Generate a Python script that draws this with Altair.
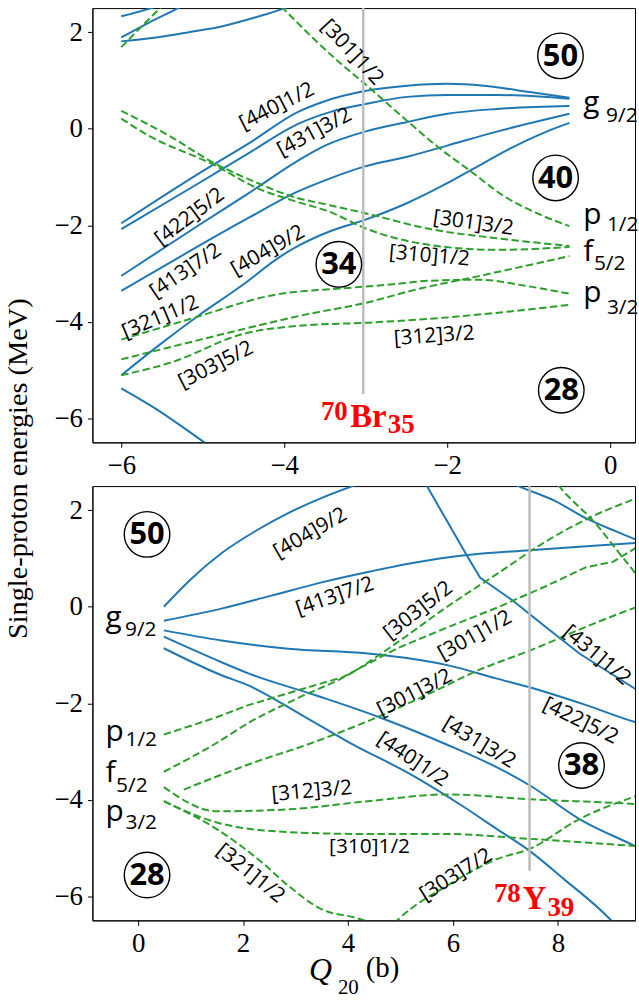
import altair as alt
import pandas as pd

BLUE = "#1f77b4"
GREEN = "#2ca02c"
GREY = "#bdbdbd"

# ------------------------------------------------------------------
# TOP PANEL (70Br, oblate side)  -- curves
# ------------------------------------------------------------------
t440_1_x = [-6.0, -5.05, -4.44, -3.83, -3.52, -3.01, -2.49, -2.0, -1.55, -0.99, -0.5]
t440_1_y = [-1.96, -0.93, -0.31, 0.35, 0.56, 0.78, 0.89, 0.93, 0.89, 0.76, 0.64]
t431_3_x = [-6.0, -5.05, -4.44, -3.83, -3.43, -3.01, -2.49, -2.0, -1.39, -0.5]
t431_3_y = [-2.08, -1.13, -0.51, 0.10, 0.35, 0.51, 0.66, 0.70, 0.70, 0.62]
t422_5_x = [-6.0, -5.05, -4.44, -3.83, -3.50, -3.01, -2.49, -2.0, -1.39, -0.5]
t422_5_y = [-3.05, -2.0, -1.34, -0.66, -0.35, -0.06, 0.14, 0.31, 0.41, 0.47]
t413_7_x = [-6.0, -5.05, -4.44, -3.83, -3.50, -3.01, -2.49, -2.0, -1.39, -0.5]
t413_7_y = [-3.36, -2.43, -1.85, -1.30, -1.07, -0.78, -0.58, -0.35, -0.06, 0.31]
t404_9_x = [-6.0, -5.54, -5.05, -4.52, -4.04, -3.83, -3.43, -3.01, -2.49, -2.0, -1.67, -1.18, -0.78, -0.5]
t404_9_y = [-5.11, -4.49, -3.87, -3.25, -2.64, -2.43, -2.12, -1.89, -1.54, -1.13, -0.82, -0.37, -0.06, 0.12]
t_low_x = [-6.0, -5.57, -4.99, -4.56]
t_low_y = [-5.38, -5.81, -6.49, -7.0]
t_topa_x = [-6.0, -5.51, -5.35]
t_topa_y = [2.33, 2.57, 2.68]
t_topb_x = [-6.0, -5.66, -5.29, -5.17]
t_topb_y = [1.89, 2.20, 2.51, 2.62]
t_topc_x = [-6.0, -5.57, -5.17, -4.77, -4.35, -4.01, -3.89]
t_topc_y = [1.81, 1.89, 2.0, 2.12, 2.31, 2.49, 2.57]

t301_1_x = [-4.13, -4.01, -3.30, -3.01, -2.49, -2.12, -1.72, -1.30, -0.90, -0.5]
t301_1_y = [2.70, 2.49, 1.34, 0.93, 0.16, -0.37, -0.87, -1.40, -1.75, -2.02]
t301_3_x = [-6.0, -5.46, -4.85, -4.32, -3.91, -3.43, -3.01, -2.21, -1.39, -0.5]
t301_3_y = [0.37, -0.10, -0.72, -1.13, -1.40, -1.59, -1.75, -2.08, -2.27, -2.43]
t310_1_x = [-6.0, -5.71, -4.85, -4.32, -3.91, -3.43, -3.01, -2.21, -1.39, -0.5]
t310_1_y = [0.21, -0.10, -0.76, -1.24, -1.48, -1.73, -2.06, -2.41, -2.51, -2.45]
t321_1_x = [-6.0, -5.17, -4.11, -3.22, -2.70, -2.21, -1.60, -1.06, -0.5]
t321_1_y = [-4.37, -3.95, -3.44, -3.30, -3.23, -3.15, -3.13, -3.25, -3.42]
t312_3_x = [-6.0, -5.17, -4.52, -3.79, -2.98, -2.40, -1.60, -0.5]
t312_3_y = [-4.78, -4.43, -4.16, -3.87, -3.60, -3.34, -3.05, -2.64]
t303_5_x = [-6.0, -5.38, -4.52, -3.79, -2.98, -2.0, -0.5]
t303_5_y = [-5.11, -4.84, -4.26, -4.08, -4.02, -3.91, -3.65]
t_steep_x = [-6.0, -5.48, -5.35]
t_steep_y = [1.69, 2.57, 2.78]

# ------------------------------------------------------------------
# BOTTOM PANEL (78Y, prolate side)
# ------------------------------------------------------------------
b404_9_x = [0.49, 0.97, 1.60, 2.23, 2.86, 3.49, 4.06, 4.5]
b404_9_y = [0.0, 0.535, 1.117, 1.564, 1.94, 2.25, 2.49, 2.66]
b413_7_x = [0.49, 1.59, 2.54, 3.48, 4.38, 5.26, 6.27, 7.46, 9.47, 9.6]
b413_7_y = [-0.29, -0.04, 0.23, 0.50, 0.72, 0.91, 1.07, 1.17, 1.32, 1.33]
b422_5_x = [0.49, 1.59, 2.86, 4.38, 5.89, 6.84, 7.46, 8.54, 9.47, 9.6]
b422_5_y = [-0.49, -0.70, -0.87, -0.97, -1.21, -1.49, -1.67, -2.04, -2.39, -2.43]
b431_3_x = [0.49, 1.59, 2.10, 3.37, 4.62, 5.89, 6.84, 7.46, 8.41, 9.47, 9.6]
b431_3_y = [-0.62, -1.15, -1.38, -1.83, -2.30, -2.86, -3.33, -3.70, -4.40, -4.96, -5.03]
b440_1_x = [0.49, 1.59, 2.10, 3.11, 4.0, 5.27, 6.21, 6.84, 7.46, 8.11, 8.98, 9.49]
b440_1_y = [-0.86, -1.42, -1.63, -2.24, -2.80, -3.52, -4.15, -4.61, -5.06, -5.64, -6.46, -7.08]
b431_1_x = [5.32, 5.51, 5.89, 6.27, 6.52, 7.15, 7.78, 8.41, 9.47, 9.6]
b431_1_y = [2.9, 2.49, 1.77, 1.05, 0.60, 0.12, -0.43, -0.97, -1.70, -1.80]
b_tr_x = [6.84, 7.27, 7.97, 8.54, 9.11, 9.47, 9.6]
b_tr_y = [2.7, 2.49, 2.18, 1.83, 1.56, 1.40, 1.35]

b301_1_x = [0.49, 1.47, 2.10, 3.05, 3.90, 4.94, 5.89, 6.84, 7.78, 8.54, 9.05, 9.47, 9.6]
b301_1_y = [-2.65, -2.30, -2.04, -1.73, -1.46, -0.86, -0.43, -0.02, 0.43, 0.82, 0.93, 1.21, 1.3]
b303_5_x = [0.49, 1.47, 2.10, 3.05, 3.99, 4.94, 5.89, 6.84, 7.78, 8.73, 9.47, 9.6]
b303_5_y = [-3.42, -2.84, -2.41, -1.89, -1.42, -0.74, 0.0, 0.68, 1.36, 1.91, 2.24, 2.3]
b301_3_x = [0.87, 2.10, 3.37, 4.62, 5.57, 6.52, 7.46, 8.73, 9.47, 9.6]
b301_3_y = [-3.79, -3.27, -2.80, -2.26, -1.79, -1.30, -0.91, -0.33, -0.02, 0.03]
b312_3_x = [0.49, 1.50, 2.86, 4.38, 5.89, 7.46, 9.47, 9.6]
b312_3_y = [-3.74, -4.24, -4.20, -4.03, -3.89, -3.99, -4.09, -4.1]
b310_1_x = [0.49, 1.50, 2.86, 4.38, 5.89, 7.46, 9.47, 9.6]
b310_1_y = [-4.03, -4.47, -4.67, -4.71, -4.71, -4.81, -4.96, -4.97]
b321_1_x = [0.49, 1.50, 2.35, 2.86, 3.48, 4.19, 4.94]
b321_1_y = [-4.03, -4.61, -5.29, -5.78, -6.26, -6.46, -6.77]
b303_7_x = [4.6, 4.94, 5.89, 6.84, 7.46, 8.41, 9.47, 9.6]
b303_7_y = [-6.9, -6.5, -5.78, -5.23, -5.02, -4.40, -3.93, -3.88]
b_steep_x = [7.88, 8.03, 8.73, 9.17, 9.47, 9.6]
b_steep_y = [2.7, 2.49, 1.71, 1.11, 0.70, 0.5]

# ------------------------------------------------------------------
# annotations
# ------------------------------------------------------------------
top_lab_text = ["[301]1/2", "[440]1/2", "[431]3/2", "[422]5/2", "[413]7/2", "[404]9/2",
                "[321]1/2", "[303]5/2", "[301]3/2", "[310]1/2", "[312]3/2"]
top_lab_x = [-3.17, -4.09, -3.63, -5.16, -5.21, -4.20, -5.52, -4.84, -1.68, -2.22, -2.16]
top_lab_y = [1.58, 0.46, -0.08, -1.83, -2.95, -2.53, -3.91, -4.90, -1.96, -2.64, -4.30]
top_lab_ang = [47, 333, 332, 323, 326, 330, 337, 333, 8, 5, 356]

bot_lab_text = ["[404]9/2", "[413]7/2", "[303]5/2", "[301]1/2", "[301]3/2", "[431]1/2",
                "[422]5/2", "[431]3/2", "[440]1/2", "[312]3/2", "[310]1/2", "[321]1/2", "[303]7/2"]
bot_lab_x = [3.28, 3.75, 5.34, 6.42, 5.27, 8.74, 8.43, 6.50, 5.23, 3.31, 4.41, 2.14, 6.06]
bot_lab_y = [1.52, 0.21, -0.08, -0.60, -1.79, -1.01, -2.37, -2.82, -3.17, -3.83, -4.98, -5.53, -5.56]
bot_lab_ang = [330, 341, 322, 331, 333, 40, 26, 31, 34, 355, 0, 39, 328]

top_orb_letter = ["g", "p", "f", "p"]
top_orb_x = [-0.33, -0.33, -0.33, -0.33]
top_orb_y = [0.35, -1.98, -2.74, -3.60]
top_orb_sub = ["9/2", "1/2", "5/2", "3/2"]
top_sub_x = [-0.05, -0.04, -0.20, -0.04]
top_sub_y = [0.144, -2.12, -2.92, -3.83]

bot_orb_letter = ["g", "p", "f", "p"]
bot_orb_x = [-0.62, -0.62, -0.62, -0.62]
bot_orb_y = [-0.41, -2.78, -3.64, -4.44]
bot_orb_sub = ["9/2", "1/2", "5/2", "3/2"]
bot_sub_x = [-0.25, -0.24, -0.42, -0.24]
bot_sub_y = [-0.60, -2.88, -3.83, -4.61]

top_magic = ["50", "40", "34", "28"]
top_magic_x = [-0.61, -0.67, -3.33, -0.60]
top_magic_y = [1.51, -1.02, -2.81, -5.42]
bot_magic = ["50", "28", "38"]
bot_magic_x = [0.17, 0.17, 8.45]
bot_magic_y = [1.50, -5.56, -3.29]

top_nucleus = ["70", "Br", "35"]
top_nuc_x = [-3.55, -3.19, -2.73]
top_nuc_y = [-6.03, -6.18, -6.30]
bot_nucleus = ["78", "Y", "39"]
bot_nuc_x = [6.78, 7.33, 7.80]
bot_nuc_y = [-6.11, -6.26, -6.40]

top_vline = {"x": [-3.03], "y": [2.5], "y2": [-5.5]}
bot_vline = {"x": [7.46], "y": [2.5], "y2": [-5.47]}

top_xticks = [-6, -4, -2, 0]
bot_xticks = [0, 2, 4, 6, 8]
yticks = [-6, -4, -2, 0, 2]
top_xdom = [-6.354, 0.305]
bot_xdom = [-0.871, 9.47]
ydom = [-6.5, 2.5]
xtitle_parts = ["Q", "20", "(b)"]
ytitle = "Single-proton energies (MeV)"

W, H = 546, 437


def curves_df(curves):
    rows = []
    for name, kind, xs, ys in curves:
        for i, (a, b) in enumerate(zip(xs, ys)):
            rows.append({"curve": name, "kind": kind, "x": a, "y": b, "i": i})
    return pd.DataFrame(rows)


# kind: pos = smooth solid, posk = solid with sharp kink, neg = smooth dashed, negk = dashed with kink
top_df = curves_df([
    ("440", "pos", t440_1_x, t440_1_y), ("431", "pos", t431_3_x, t431_3_y),
    ("422", "pos", t422_5_x, t422_5_y), ("413", "pos", t413_7_x, t413_7_y),
    ("404", "pos", t404_9_x, t404_9_y), ("low", "pos", t_low_x, t_low_y),
    ("ta", "pos", t_topa_x, t_topa_y), ("tb", "pos", t_topb_x, t_topb_y),
    ("tc", "pos", t_topc_x, t_topc_y),
    ("301a", "neg", t301_1_x, t301_1_y), ("301b", "neg", t301_3_x, t301_3_y),
    ("310", "neg", t310_1_x, t310_1_y), ("321", "neg", t321_1_x, t321_1_y),
    ("312", "neg", t312_3_x, t312_3_y), ("303", "neg", t303_5_x, t303_5_y),
    ("st", "neg", t_steep_x, t_steep_y),
])
bot_df = curves_df([
    ("404", "pos", b404_9_x, b404_9_y), ("413", "pos", b413_7_x, b413_7_y),
    ("422", "pos", b422_5_x, b422_5_y), ("431b", "pos", b431_3_x, b431_3_y),
    ("440", "pos", b440_1_x, b440_1_y), ("431a", "posk", b431_1_x, b431_1_y),
    ("tr", "pos", b_tr_x, b_tr_y),
    ("301a", "negk", b301_1_x, b301_1_y), ("303a", "neg", b303_5_x, b303_5_y),
    ("301b", "neg", b301_3_x, b301_3_y), ("312", "neg", b312_3_x, b312_3_y),
    ("310", "neg", b310_1_x, b310_1_y), ("321", "neg", b321_1_x, b321_1_y),
    ("303b", "neg", b303_7_x, b303_7_y), ("st", "neg", b_steep_x, b_steep_y),
])


def make_panel(df, xdom, xticks, vline, labs, orb, sub, magic, nuc, show_ytitle, extra_layers):
    xs = alt.Scale(domain=xdom, nice=False, zero=False)
    ys = alt.Scale(domain=ydom, nice=False, zero=False)
    xaxis = alt.Axis(values=xticks, title=None, grid=False)
    if show_ytitle:
        yaxis = alt.Axis(values=yticks, grid=False, title=ytitle, titleX=-60, titleY=463,
                         titleAngle=270, titleAlign="center", titleBaseline="bottom",
                         titleFont="Liberation Serif", titleFontSize=28.5,
                         titleFontWeight="normal", titleColor="black")
    else:
        yaxis = alt.Axis(values=yticks, grid=False, title=None)
    X = alt.X("x:Q", scale=xs, axis=xaxis)
    Y = alt.Y("y:Q", scale=ys, axis=yaxis)

    base = alt.Chart(df)
    layers = []
    for kind, col, dash, interp in [("pos", BLUE, None, "monotone"), ("posk", BLUE, None, "linear"),
                                    ("neg", GREEN, [7.5, 3.5], "monotone"),
                                    ("negk", GREEN, [7.5, 3.5], "linear")]:
        kw = dict(color=col, strokeWidth=2, clip=True, interpolate=interp)
        if dash:
            kw["strokeDash"] = dash
        layers.append(base.transform_filter(alt.datum.kind == kind).mark_line(**kw).encode(
            x=X, y=Y, detail="curve:N", order="i:Q"))

    rule = alt.Chart(pd.DataFrame(vline)).mark_rule(color=GREY, strokeWidth=2.5).encode(
        x=X, y=Y, y2="y2:Q")

    lab_df = pd.DataFrame({"t": labs[0], "x": labs[1], "y": labs[2], "a": labs[3]})
    lab = alt.Chart(lab_df).mark_text(font="Open Sans", fontSize=21, color="black",
                                      align="center", baseline="middle").encode(
        x=X, y=Y, text="t:N", angle=alt.Angle("a:Q", scale=None))

    orb_df = pd.DataFrame({"t": orb[0], "x": orb[1], "y": orb[2]})
    orb_l = alt.Chart(orb_df).mark_text(font="Open Sans", fontSize=30, color="black",
                                        align="left", baseline="alphabetic").encode(
        x=X, y=Y, text="t:N")
    sub_df = pd.DataFrame({"t": sub[0], "x": sub[1], "y": sub[2]})
    sub_l = alt.Chart(sub_df).mark_text(font="Open Sans", fontSize=21, color="black",
                                        align="left", baseline="alphabetic").encode(
        x=X, y=Y, text="t:N")

    mag_df = pd.DataFrame({"t": magic[0], "x": magic[1], "y": magic[2]})
    circ = alt.Chart(mag_df).mark_point(shape="circle", size=2100, filled=False,
                                        color="black", strokeWidth=1.4, opacity=1).encode(x=X, y=Y)
    mag_t = alt.Chart(mag_df).mark_text(font="Open Sans", fontWeight="bold", fontSize=31,
                                        color="black", align="center", baseline="middle",
                                        dy=1).encode(x=X, y=Y, text="t:N")

    nuc_df = pd.DataFrame({"t": nuc[0], "x": nuc[1], "y": nuc[2],
                           "s": [27, 33, 27]})
    nuc_l = alt.Chart(nuc_df).mark_text(font="Liberation Serif", fontWeight="bold",
                                        color="red", align="left", baseline="alphabetic").encode(
        x=X, y=Y, text="t:N", size=alt.Size("s:Q", scale=None))

    layers += [rule, lab, orb_l, sub_l, circ, mag_t, nuc_l] + extra_layers
    return alt.layer(*layers).properties(width=W, height=H)


xt_df = pd.DataFrame({"t": xtitle_parts})
q_l = alt.Chart(xt_df).transform_filter(alt.datum.t == "Q").mark_text(
    font="Liberation Serif", fontStyle="italic", fontSize=32, color="black",
    align="left", baseline="alphabetic").encode(
    x=alt.value(218), y=alt.value(497), text="t:N")
q_sub = alt.Chart(xt_df).transform_filter(alt.datum.t == "20").mark_text(
    font="Liberation Serif", fontSize=21, color="black",
    align="left", baseline="alphabetic").encode(
    x=alt.value(247), y=alt.value(511), text="t:N")
q_b = alt.Chart(xt_df).transform_filter(alt.datum.t == "(b)").mark_text(
    font="Liberation Serif", fontSize=29, color="black",
    align="left", baseline="alphabetic").encode(
    x=alt.value(275), y=alt.value(494), text="t:N")

top = make_panel(top_df, top_xdom, top_xticks, top_vline,
                 (top_lab_text, top_lab_x, top_lab_y, top_lab_ang),
                 (top_orb_letter, top_orb_x, top_orb_y),
                 (top_orb_sub, top_sub_x, top_sub_y),
                 (top_magic, top_magic_x, top_magic_y),
                 (top_nucleus, top_nuc_x, top_nuc_y), True, [])
bot = make_panel(bot_df, bot_xdom, bot_xticks, bot_vline,
                 (bot_lab_text, bot_lab_x, bot_lab_y, bot_lab_ang),
                 (bot_orb_letter, bot_orb_x, bot_orb_y),
                 (bot_orb_sub, bot_sub_x, bot_sub_y),
                 (bot_magic, bot_magic_x, bot_magic_y),
                 (bot_nucleus, bot_nuc_x, bot_nuc_y), False, [q_l, q_sub, q_b])

chart = alt.vconcat(top, bot, spacing=44, bounds="flush").properties(
    padding={"left": 3, "top": 3, "right": 0, "bottom": 0}
).configure_view(stroke="black", strokeWidth=1).configure_axis(
    labelFont="Liberation Serif", labelFontSize=27, labelColor="black",
    tickColor="black", domainColor="black", tickSize=5, labelPadding=5,
    domainWidth=1, tickWidth=1
)

chart.save("out.html", embed_options={"renderer": "svg", "actions": False})
